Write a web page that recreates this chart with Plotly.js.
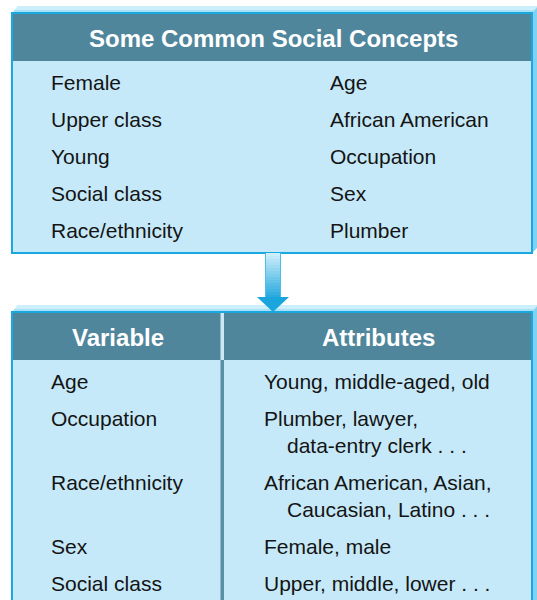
<!DOCTYPE html>
<html><head><meta charset="utf-8">
<script src="https://cdn.plot.ly/plotly-3.0.1.min.js"></script>
<style>html,body{margin:0;padding:0;background:#fff}</style>
</head><body><div id="chart" style="width:537px;height:600px"></div>
<script>
// ---- content ----
const titleTop = "Some Common Social Concepts";
const conceptsLeft = ["Female", "Upper class", "Young", "Social class", "Race/ethnicity"];
const conceptsRight = ["Age", "African American", "Occupation", "Sex", "Plumber"];
const headerLeft = "Variable";
const headerRight = "Attributes";
const variables = ["Age", "Occupation", "Race/ethnicity", "Sex", "Social class"];
const attributes = [
  ["Young, middle-aged, old"],
  ["Plumber, lawyer,", "data-entry clerk . . ."],
  ["African American, Asian,", "Caucasian, Latino . . ."],
  ["Female, male"],
  ["Upper, middle, lower . . ."]
];

// ---- styles ----
const FONT = "'Liberation Sans', Arial, Helvetica, sans-serif";
const CYAN = "#19a8df";
const HEADER = "#4f869c";
const BODY = "#c6e9f9";
const TEXT = "#141414";
const L = 12, R = 532, D = 6;
const FS = 21, HFS = 24;

const shapes = [];
const annotations = [];

function box(top, headBottom, bottom) {
  shapes.push({type: "path", path: `M ${L} ${top} L ${L+D} ${top-D-1} L ${R+D} ${top-D-1} L ${R} ${top} Z`,
    fillcolor: "#a9e2f6", line: {width: 0}});
  shapes.push({type: "path", path: `M ${L+3} ${top-3} L ${L+D} ${top-D-1} L ${R+D} ${top-D-1} L ${R+3} ${top-3} Z`,
    fillcolor: "#cdeefb", line: {width: 0}});
  shapes.push({type: "path", path: `M ${R} ${top} L ${R+D} ${top-D-1} L ${R+D} ${bottom-D} L ${R} ${bottom} Z`,
    fillcolor: "#7fd2f2", line: {width: 0}});
  shapes.push({type: "rect", x0: L, x1: R, y0: top, y1: bottom, fillcolor: BODY, line: {color: CYAN, width: 2}});
  shapes.push({type: "rect", x0: L + 1, x1: R - 1, y0: top + 1, y1: headBottom, fillcolor: HEADER, line: {width: 0}});
}

function text(t, x, y, opts) {
  annotations.push(Object.assign({
    text: t, x: x, y: y, xref: "x", yref: "y", showarrow: false,
    xanchor: "left", yanchor: "middle",
    font: {family: FONT, size: FS, color: TEXT}
  }, opts || {}));
}

// top box
box(13, 61, 253);
text("<b>" + titleTop + "</b>", (L + R) / 2 + 1, 38, {xanchor: "center", font: {family: FONT, size: HFS, color: "#ffffff"}});
conceptsLeft.forEach((c, i) => text(c, 49, 82 + i * 37));
conceptsRight.forEach((c, i) => text(c, 328, 82 + i * 37));

// arrow (gradient shaft)
const shaftTop = 253, shaftBot = 298, N = 15;
const c0 = [205, 238, 251], c1 = [40, 170, 222];
for (let i = 0; i < N; i++) {
  const t = i / (N - 1);
  const c = c0.map((v, k) => Math.round(v + (c1[k] - v) * t));
  shapes.push({type: "rect", x0: 266, x1: 280,
    y0: shaftTop + (shaftBot - shaftTop) * i / N, y1: shaftTop + (shaftBot - shaftTop) * (i + 1) / N + 0.5,
    fillcolor: `rgb(${c[0]},${c[1]},${c[2]})`, line: {width: 0}});
}
shapes.push({type: "line", x0: 265.5, x1: 265.5, y0: shaftTop, y1: shaftBot, line: {color: "#4fbde8", width: 1}});
shapes.push({type: "line", x0: 280.5, x1: 280.5, y0: shaftTop, y1: shaftBot, line: {color: "#4fbde8", width: 1}});

// bottom box
box(312, 360, 640);
// divider
shapes.push({type: "rect", x0: 220.5, x1: 224, y0: 313, y1: 360, fillcolor: "#cbe8f4", line: {width: 0}});
shapes.push({type: "rect", x0: 220.5, x1: 224, y0: 360, y1: 640, fillcolor: "#5a90a6", line: {width: 0}});
// arrowhead on top
shapes.push({type: "path", path: "M 257 297 L 289 297 L 273 312 Z", fillcolor: "#1aa6dc", line: {width: 0}});

text("<b>" + headerLeft + "</b>", (L + 221) / 2 + 1, 337, {xanchor: "center", font: {family: FONT, size: HFS, color: "#ffffff"}});
text("<b>" + headerRight + "</b>", (224 + R) / 2, 337, {xanchor: "center", font: {family: FONT, size: HFS, color: "#ffffff"}});

let y = 381;
variables.forEach((v, i) => {
  text(v, 49, y);
  attributes[i].forEach((a, j) => {
    if (j > 0) y += 27;
    text(a, j === 0 ? 262 : 285, y);
  });
  y += 37;
});

const layout = {
  width: 537, height: 600,
  margin: {l: 0, r: 0, t: 0, b: 0},
  paper_bgcolor: "#ffffff", plot_bgcolor: "#ffffff",
  xaxis: {range: [0, 537], visible: false, fixedrange: true},
  yaxis: {range: [600, 0], visible: false, fixedrange: true},
  showlegend: false,
  shapes: shapes,
  annotations: annotations
};
Plotly.newPlot("chart", [], layout, {staticPlot: true, displayModeBar: false});
</script></body></html>
